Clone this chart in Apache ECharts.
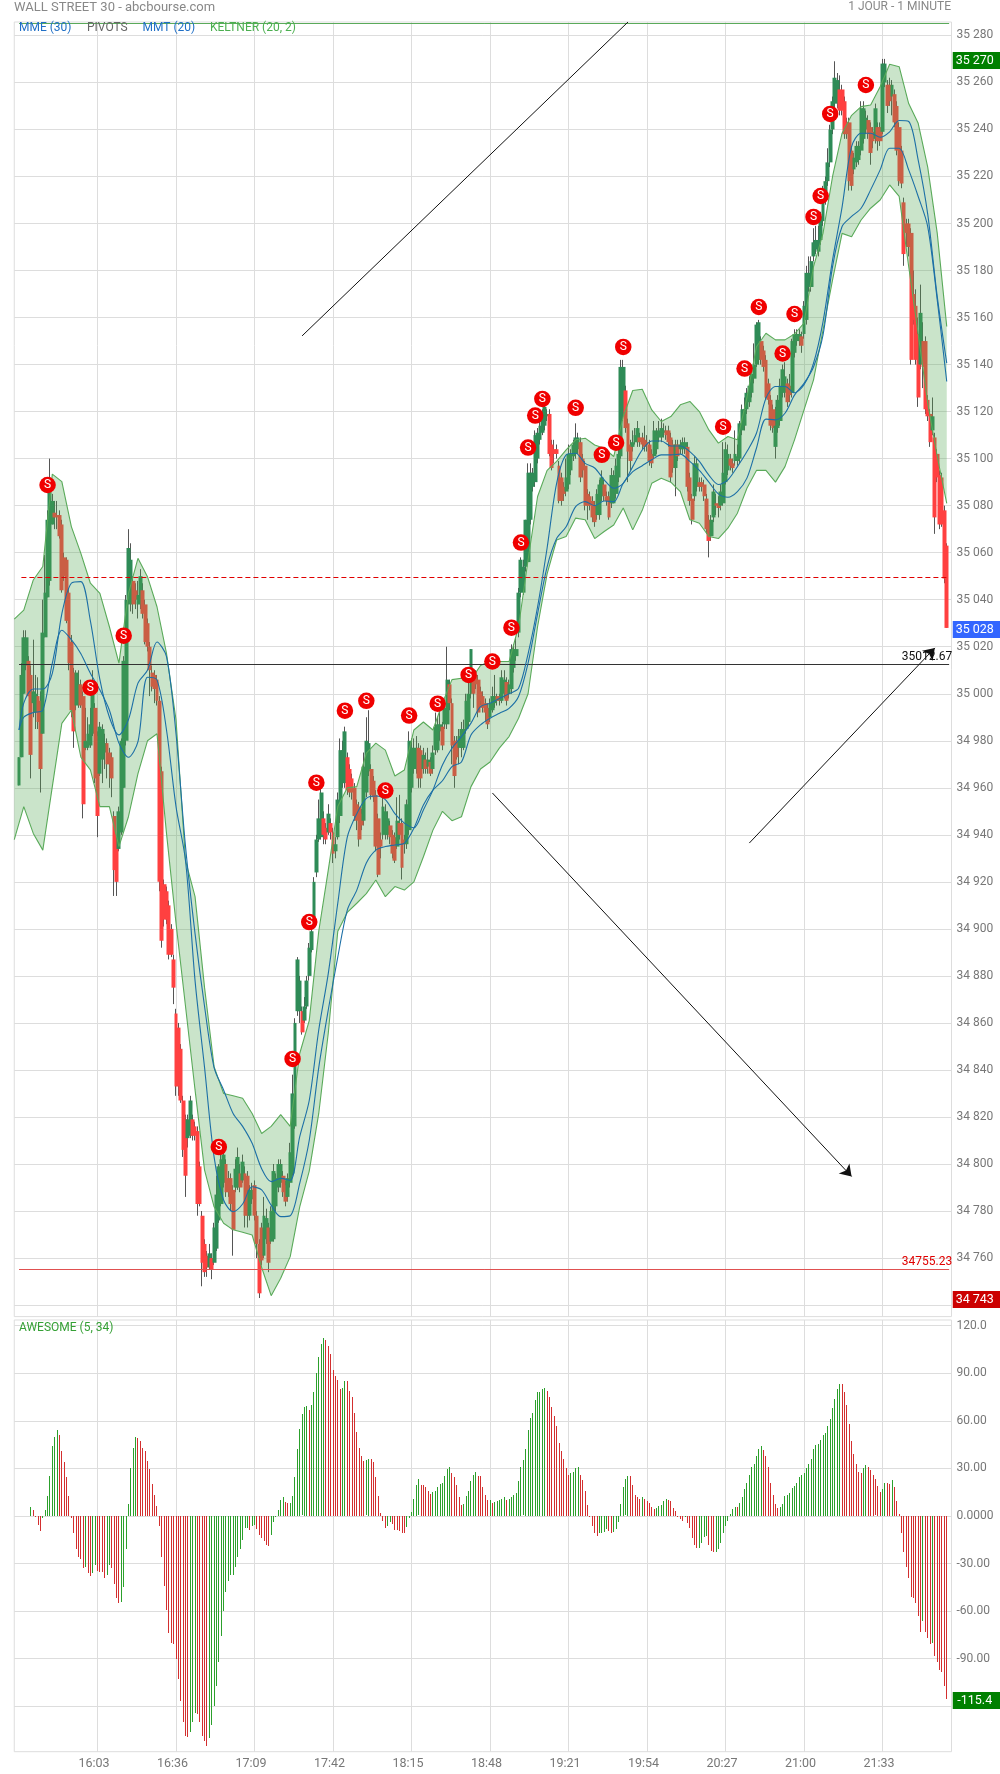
<!DOCTYPE html>
<html><head><meta charset="utf-8">
<style>html,body{margin:0;padding:0;background:#fff}#c{width:1000px;height:1774px}</style>
<script src="https://cdn.jsdelivr.net/npm/echarts@6/dist/echarts.min.js"></script>
</head><body><div id="c"></div>
<script>
// minutes 15:28 .. 22:02
const times=[];for(let m=15*60+28;m<=22*60+2;m++){times.push(String(Math.floor(m/60)).padStart(2,'0')+':'+String(m%60).padStart(2,'0'));}
const priceTicks=[];for(let v=34740;v<=35280;v+=20)priceTicks.push(v);
const aoTicks=[-120,-90,-60,-30,0,30,60,90,120];
const aoLabels={'120':'120.0','90':'90.00','60':'60.00','30':'30.00','0':'0.0000','-30':'-30.00','-60':'-60.00','-90':'-90.00','-120':''};
// candles [open, close, low, high], first row = index 2 (15:30)
const candles=[
[34961,34973,34961,34973],[34973,35008,34973,35013],[35000,35024,35000,35027],[35012,35024,35010,35027],[35014,34999,34999,35016],[35008,34974,34964,35012],[34996,35001,34990,35023],[34992,35000,34985,35008],[34999,34988,34985,35007],[34997,34968,34958,35001],
[34983,35026,34983,35040],[35024,35043,35024,35059],[35041,35074,35041,35078],[35048,35087,35046,35100],[35072,35082,35072,35085],[35077,35075,35070,35082],[35076,35075,35070,35082],[35076,35067,35066,35078],[35072,35044,35043,35074],[35058,35050,35048,35060],
[35057,35031,35030,35058],[35043,35013,35010,35045],[35022,34993,34990,35025],[35009,34984,34977,35011],[34995,35009,34993,35010],[34996,35004,34994,35010],[35004,34995,34994,35006],[34999,34953,34947,35001],[34977,34980,34976,34994],[34977,34983,34976,34990],
[34978,34987,34977,34994],[34983,35000,34982,35010],[34994,34964,34962,34996],[34982,34948,34939,34984],[34966,34986,34965,34988],[34972,34985,34962,34987],[34975,34979,34968,34983],[34979,34970,34964,34981],[34975,34970,34960,34977],[34973,34964,34956,34975],
[34948,34925,34914,34950],[34938,34920,34914,34940],[34934,34950,34933,34952],[34941,34980,34940,34981],[34960,35014,34960,35016],[34980,35040,34978,35042],[35040,35062,35038,35070],[35038,35057,35035,35064],[35048,35038,35034,35050],[35044,35040,35036,35047],
[35038,35042,35032,35048],[35038,35050,35036,35053],[35044,35034,35032,35047],[35038,35022,35021,35040],[35030,35020,35018,35032],[35020,35010,34999,35022],[35009,35003,35001,35012],[35008,35002,34996,35010],[35006,34997,34995,35008],[34997,34920,34916,34999],
[34967,34895,34892,34969],[34919,34904,34901,34921],[34916,34904,34902,34918],[34910,34889,34887,34912],[34900,34889,34888,34902],[34887,34875,34868,34889],[34864,34833,34829,34866],[34858,34833,34829,34860],[34849,34827,34826,34851],[34827,34806,34803,34829],
[34819,34795,34786,34821],[34811,34819,34807,34821],[34812,34827,34811,34829],[34819,34812,34810,34821],[34816,34812,34810,34818],[34814,34783,34778,34816],[34799,34783,34782,34801],[34778,34758,34748,34780],[34766,34754,34752,34768],[34761,34756,34752,34763],
[34756,34762,34755,34766],[34760,34755,34751,34762],[34758,34773,34757,34775],[34764,34787,34763,34795],[34776,34799,34775,34800],[34783,34802,34782,34807],[34792,34804,34790,34807],[34800,34788,34786,34802],[34794,34788,34786,34797],[34794,34783,34780,34796],
[34789,34772,34761,34791],[34790,34798,34788,34802],[34790,34803,34789,34807],[34796,34790,34788,34800],[34793,34801,34792,34804],[34796,34778,34773,34799],[34795,34778,34773,34797],[34778,34789,34776,34791],[34785,34789,34783,34792],[34791,34778,34776,34793],
[34778,34766,34760,34780],[34766,34745,34743,34768],[34773,34759,34757,34775],[34761,34778,34760,34786],[34768,34777,34766,34781],[34773,34758,34754,34775],[34767,34780,34766,34782],[34768,34797,34767,34800],[34782,34794,34780,34796],[34790,34800,34788,34802],
[34792,34800,34790,34802],[34795,34788,34786,34797],[34791,34784,34782,34793],[34786,34794,34784,34796],[34792,34805,34790,34809],[34796,34830,34795,34838],[34816,34860,34815,34862],[34865,34887,34863,34888],[34865,34878,34860,34880],[34865,34856,34855,34867],
[34861,34867,34860,34871],[34867,34878,34866,34880],[34880,34892,34878,34894],[34891,34899,34890,34901],[34901,34920,34900,34922],[34924,34938,34922,34940],[34938,34947,34937,34955],[34939,34958,34938,34962],[34947,34940,34936,34950],[34943,34938,34936,34945],
[34941,34949,34940,34953],[34945,34941,34938,34947],[34941,34932,34928,34943],[34933,34936,34930,34939],[34939,34955,34938,34958],[34948,34976,34945,34981],[34962,34976,34960,34980],[34962,34984,34960,34986],[34973,34959,34957,34975],[34968,34958,34956,34970],
[34964,34958,34955,34966],[34960,34948,34946,34962],[34953,34946,34942,34955],[34952,34938,34935,34954],[34949,34944,34942,34951],[34946,34969,34944,34975],[34958,34980,34956,34990],[34967,34979,34965,34993],[34968,34957,34955,34970],[34963,34956,34954,34965],
[34957,34935,34933,34959],[34947,34923,34922,34949],[34938,34935,34930,34941],[34940,34952,34938,34956],[34940,34950,34938,34953],[34940,34947,34938,34950],[34944,34939,34936,34946],[34940,34932,34930,34942],[34939,34929,34928,34941],[34935,34946,34934,34956],
[34945,34940,34938,34957],[34945,34926,34921,34947],[34938,34936,34932,34940],[34936,34953,34934,34955],[34942,34980,34940,34984],[34960,34977,34958,34981],[34968,34977,34966,34981],[34968,34977,34966,34982],[34977,34964,34960,34979],[34976,34964,34960,34978],
[34968,34974,34966,34977],[34972,34968,34966,34975],[34969,34972,34966,34977],[34971,34966,34965,34973],[34968,34975,34966,34978],[34976,34986,34974,34992],[34976,34987,34975,34990],[34984,34987,34980,34994],[34986,34978,34976,34988],[34987,34994,34985,34996],
[34987,35006,34985,35020],[35004,34996,34993,35006],[34996,34978,34970,34998],[34980,34965,34960,34982],[34980,34973,34972,34982],[34977,34982,34970,34985],[34977,34985,34973,34988],[34977,34985,34976,34989],[34985,34997,34983,35000],[34988,35000,34986,35008],
[35000,35019,34998,35019],[35006,35000,34994,35010],[35008,35004,35002,35010],[35006,34992,34990,35008],[35001,34997,34995,35003],[34999,34994,34992,35001],[34996,34992,34988,34998],[34994,34987,34985,34996],[34990,34996,34988,34998],[34993,34999,34992,35003],
[34996,34999,34994,35008],[34999,34997,34995,35000],[34999,34997,34995,35000],[34997,35007,34996,35010],[35000,35006,34998,35010],[35005,34997,34995,35007],[35000,35004,34998,35006],[35002,35019,35000,35021],[35011,35019,35009,35021],[35016,35019,35014,35024],
[35026,35043,35024,35045],[35043,35057,35041,35058],[35043,35054,35042,35057],[35054,35074,35052,35074],[35056,35094,35055,35098],[35074,35094,35072,35098],[35088,35094,35086,35096],[35090,35110,35088,35112],[35100,35111,35098,35113],[35108,35114,35106,35116],
[35111,35119,35110,35121],[35114,35122,35112,35124],[35118,35119,35116,35121],[35119,35102,35101,35121],[35106,35096,35095,35108],[35104,35102,35098,35108],[35104,35102,35100,35106],[35097,35082,35081,35099],[35092,35082,35080,35094],[35088,35085,35082,35090],
[35086,35092,35084,35100],[35089,35102,35087,35106],[35095,35102,35093,35104],[35101,35106,35099,35108],[35102,35109,35100,35115],[35104,35109,35102,35111],[35107,35092,35090,35109],[35100,35095,35092,35102],[35097,35080,35078,35099],[35085,35080,35074,35087],
[35084,35080,35078,35086],[35082,35075,35073,35084],[35080,35073,35071,35082],[35076,35085,35074,35087],[35076,35089,35074,35091],[35084,35092,35082,35095],[35089,35084,35082,35091],[35084,35082,35080,35086],[35084,35075,35074,35086],[35081,35093,35079,35096],
[35081,35093,35081,35095],[35085,35097,35083,35100],[35092,35102,35090,35104],[35101,35139,35100,35142],[35118,35139,35116,35142],[35129,35113,35111,35131],[35115,35103,35090,35117],[35106,35099,35095,35108],[35105,35107,35103,35112],[35107,35110,35106,35113],
[35107,35113,35105,35116],[35109,35107,35105,35111],[35109,35106,35104,35111],[35108,35105,35103,35114],[35107,35106,35103,35110],[35106,35099,35097,35108],[35102,35098,35096,35104],[35101,35112,35100,35116],[35104,35110,35102,35113],[35109,35112,35107,35116],
[35109,35113,35107,35117],[35111,35112,35109,35115],[35112,35110,35108,35114],[35112,35107,35105,35114],[35109,35092,35090,35111],[35106,35096,35094,35108],[35096,35106,35084,35108],[35106,35101,35099,35108],[35104,35106,35102,35108],[35104,35107,35102,35109],
[35104,35107,35102,35109],[35105,35088,35086,35107],[35092,35082,35080,35094],[35083,35074,35072,35085],[35084,35098,35082,35101],[35088,35098,35086,35100],[35090,35088,35086,35092],[35090,35088,35086,35092],[35089,35084,35082,35091],[35083,35070,35068,35085],
[35074,35065,35058,35076],[35067,35074,35065,35076],[35075,35086,35073,35089],[35081,35080,35076,35085],[35081,35079,35075,35084],[35080,35086,35078,35089],[35081,35094,35080,35107],[35090,35104,35089,35107],[35095,35102,35093,35106],[35100,35097,35095,35102],
[35098,35096,35094,35100],[35099,35102,35097,35112],[35099,35101,35097,35106],[35100,35115,35098,35116],[35112,35121,35110,35123],[35114,35121,35112,35126],[35121,35128,35119,35130],[35124,35131,35122,35135],[35128,35136,35126,35140],[35134,35140,35132,35149],
[35140,35157,35139,35158],[35142,35158,35140,35159],[35150,35142,35140,35152],[35146,35139,35137,35148],[35142,35126,35125,35144],[35132,35125,35123,35134],[35125,35114,35112,35127],[35121,35113,35111,35123],[35105,35114,35100,35122],[35113,35125,35111,35127],
[35116,35131,35114,35134],[35128,35138,35126,35140],[35128,35135,35126,35141],[35132,35124,35122,35134],[35131,35127,35124,35136],[35128,35150,35126,35151],[35145,35153,35143,35155],[35150,35153,35148,35155],[35150,35153,35148,35155],[35152,35148,35145,35154],
[35153,35165,35151,35167],[35159,35179,35157,35182],[35173,35179,35171,35186],[35173,35184,35171,35186],[35186,35192,35184,35198],[35189,35193,35187,35199],[35188,35193,35186,35199],[35193,35203,35191,35205],[35201,35210,35199,35216],[35210,35218,35208,35220],
[35218,35226,35216,35232],[35226,35240,35224,35242],[35240,35252,35238,35254],[35251,35262,35249,35269],[35251,35261,35249,35264],[35257,35248,35246,35263],[35257,35248,35246,35259],[35252,35238,35236,35254],[35243,35238,35236,35245],[35243,35218,35214,35245],
[35231,35216,35214,35233],[35223,35228,35221,35230],[35226,35233,35224,35235],[35227,35233,35225,35235],[35231,35249,35229,35252],[35236,35249,35234,35252],[35240,35245,35238,35248],[35244,35238,35236,35246],[35241,35230,35225,35243],[35239,35235,35232,35241],
[35236,35249,35234,35251],[35241,35235,35231,35243],[35241,35235,35233,35243],[35239,35268,35238,35270],[35260,35268,35258,35270],[35259,35250,35247,35261],[35259,35252,35250,35262],[35254,35259,35246,35261],[35255,35243,35241,35257],[35250,35231,35229,35252],
[35241,35218,35216,35243],[35231,35217,35215,35233],[35209,35187,35182,35211],[35200,35196,35190,35202],[35200,35190,35186,35202],[35196,35142,35140,35198],[35170,35159,35157,35180],[35165,35142,35140,35172],[35153,35126,35122,35160],[35140,35162,35138,35174],
[35150,35139,35130,35158],[35150,35121,35119,35152],[35125,35118,35116,35127],[35119,35107,35105,35121],[35112,35118,35110,35126],[35109,35075,35068,35111],[35102,35092,35090,35104],[35093,35072,35070,35095],[35092,35072,35071,35094],[35078,35049,35047,35080],
[35063,35028,35028,35064]
];
// read every 4 bars from index 0
const keltnerUpper=[35031.7,35035.6,35048.4,35054.1,35093.4,35090.2,35071.1,35059.7,35047,35042.7,35028.5,35013,35042.7,35057.6,35049.8,35037,35017.2,34988.9,34929,34913.7,34875,34841.4,34830,34829,34828,34821.5,34813,34816,34821,34816,34847,34861,34899,34925,34952,34960,34960.5,34974.7,34979,34976,34965,34967.6,34984.6,34988,34984.6,34996,35006,35006.6,35006,35012,35013.7,35013.7,35013.7,35028.6,35057,35083.9,35095,35098.8,35103.7,35108,35108.7,35105.8,35104.4,35100.9,35117.9,35129,35129.5,35120.7,35115.8,35117.9,35122.9,35124.3,35120,35112.2,35106.6,35109.4,35108,35126,35147.6,35153.3,35150.5,35150.5,35153,35157.6,35181.7,35195.9,35220,35238.4,35246,35249.7,35250.4,35258.2,35267.7,35266.7,35251,35242.6,35224,35195.9,35156.2];
const keltnerLower=[34938,34952,34940.6,34933.5,34960.5,34987.4,34993,34973,34967.6,34952,34952,34935,34947.7,34966,34980,34983,34940.6,34902.4,34867,34831.5,34797.4,34781.8,34774.8,34772,34771,34769.8,34756,34744,34751.4,34760.6,34781.8,34797,34821.5,34855.6,34899,34907,34910.9,34915,34920.8,34913.7,34918,34916.5,34920,34930.7,34942,34950,34946,34947.7,34960.5,34968,34971,34977,34981.8,34989.6,35000,35028.6,35051,35065.4,35066.9,35074.7,35074,35066,35069,35071.8,35079,35069.7,35078,35089.5,35091.7,35090,35086,35074,35072.5,35066.9,35066,35070.4,35076.8,35087.4,35095,35095,35090,35096.6,35108,35120.7,35133.5,35154.7,35176,35195.8,35194.4,35201.5,35206.5,35210,35216.4,35211.5,35181.7,35153,35123.6,35100.9,35081];
// read every 4 bars from index 4
const mmt=[34996,35002,35002,35008.7,35034,35047,35047.7,35031,35006,34990,34982.5,34989,35004.5,35010,35022,35015.8,34983,34935,34898,34867,34841,34831.5,34821.5,34816,34808.8,34798,34792.5,34793.9,34793,34811.6,34827,34857,34881,34910.9,34939,34949,34955.5,34956.5,34955,34949,34945,34943,34950.6,34959,34969.7,34976.8,34981.8,34987.5,34994.5,34996,34998,35000,35002.3,35017,35037,35062,35089.5,35101.6,35102.3,35098,35096,35091,35087.4,35089.5,35096.6,35103.7,35107.5,35107.5,35105.4,35105.4,35103,35098.8,35093,35089,35091,35096.6,35103,35110.8,35125.7,35130.7,35130.7,35128,35131.4,35140.6,35158.3,35184.5,35207,35232.7,35238.4,35238.4,35236.7,35239,35243.8,35243.4,35227,35204,35169,35140.6];
const mme=[34990,34992,34993,35013,35027,35023,35017,35008.7,35001.6,34993,34979,34973,34979.6,35007,35005.9,34984.6,34952,34929,34878,34841,34803,34784.7,34779.7,34783,34790.3,34789,34782.5,34777.6,34778,34791.8,34810,34841,34865.5,34888,34908,34916.5,34928,34933.5,34935,34935.7,34936.4,34942.8,34952.7,34959,34963,34969,34971,34982.5,34986.8,34989.6,34991.7,34993.8,34998.8,35013,35034,35054,35066,35071,35079.6,35081.7,35080,35082,35081.7,35089.5,35094.5,35097,35099.5,35101.6,35101.6,35101.9,35098.8,35095,35090,35085,35083.6,35086,35091.7,35104.4,35116.8,35116.5,35119.3,35127,35132,35139,35152.6,35181.7,35198.7,35203,35206.5,35214.3,35222.8,35232,35232,35222.8,35211.5,35198.7,35167.5,35132.8];
const lineStart=34984.6;
// awesome oscillator, first value = index 7
const ao=[5.4,3.8,-0.5,-5.6,-9.4,-1,3.8,12.5,25,44,50,54,51,41,34,24.5,12.5,-1,-11,-21,-26,-27,-33,-32,-36,-38,-36,-31,-35,-35.4,-35.6,-39,-37,-31,-33,-43,-52,-55,-54,-45,-21,7.5,30,43,50,49,47,43,41,34.5,29.5,20,13,6,-6,-26,-44,-59,-74,-80,-80.5,-90,-103,-117,-130,-139,-139.5,-136,-130,-124,-125,-130,-139,-142,-145,-140,-132,-120,-107,-92,-76,-60,-48,-41,-37,-36.9,-32,-26,-21,-15,-7.5,-7.4,-9,-6,-5.6,-8,-12,-14,-16,-18,-19,-12,-4,-0.6,3.8,10,12,9,8,8.1,12.5,24.5,42,55,64,69,69.1,67,70,78,90,100,108.5,112,111,107,102,92,88,86,80,
81,85,84.9,79,75,65,53,43,38,34.5,35,36,35.8,34,24.5,12.5,2,-3,-7.5,-6,-4,-5,-9,-9.1,-9.2,-10.8,-10.9,-7,-1,2.5,11,19.5,23,19.5,19.4,18,16,14,15,16,18,20,21,25,29.5,31,27,24.5,19.5,12,7,7.5,12.5,16,22,26,27.5,25.5,25,18,13,10,10.1,8,9,9.5,10,11,12,10,10.5,12,13,14.5,22,31,35,42,54.5,61.5,65,73,78,78.1,80,81,79,75,69,63,56.5,46,41,36,30,26,27,27.5,30,31,26,22.5,16,7,-0.4,-6,-11,-12.5,-11,-10.5,-10,-8,-9.5,-10.5,-10.4,-8,-4,7.5,18,23,25.5,25.4,19.5,13,12,11,12,10.5,9.5,8,5.6,4.4,5,6,7,9.5,10.5,10,9.5,
5,3,-0.4,-2,-3,-0.6,-4.4,-7.5,-14,-18,-20,-20,-17,-13,-12.5,-18,-22,-23,-22.5,-21,-17,-11,-6,-3,1.3,4.4,5.6,5.5,8,12,17,21,26,31,33,38,42,44,41.5,38,31,21,13,7.5,5,5.6,7.5,12.5,13,14.5,17.5,19,20.5,24.5,26,27,30,32.5,36,42,45,45.5,48,51,52.5,56.5,61,68,74,80,83.5,83,78,70,58,47,39,32.5,27.5,27,30,32,31,29,26,23,19,15,17,21,20.5,20,22.5,18,9.5,1,-10.5,-23,-32,-39,-51,-52,-55,-63,-73,-66.5,-73,-77,-81,-80,-88,-92,-97,-98.5,-107,-115.4];
// sell signals [index, price]
const sellSignals=[[14,35088.8],[32,35002.6],[46,35024.7],[86,34807.2],[117,34844.7],[124,34902.9],[127,34962.2],[139,34992.8],[148,34997],[156,34958.8],[166,34990.7],[178,34995.8],[191,35008],[201,35013.7],[209,35028.1],[213,35064.3],[216,35104.7],[219,35118.3],[222,35125.4],[236,35121.6],[247,35101.6],[253,35106.8],[256,35147.5],[298,35113.6],[307,35138.3],[313,35164.5],[323,35144.7],[328,35161.5],[336,35202.8],[339,35211.7],[343,35246.6],[358,35258.9]];
const pivotValue=35049.5, resistance=35012.67, support=34755.23, topLine=35285.3;
const lastClose=35028, dayHigh=35270, dayLow=34743, aoLast=-115.4;

const F='Roboto';
const fmtPrice=v=>{const s=String(Math.round(v));return s.slice(0,2)+' '+s.slice(2);};
const isTime=i=>(i-35)%33===0&&i>=35;
const candleIdx=i=>times[i+2];
const wicks=candles.map((c,i)=>[candleIdx(i),Math.min(c[0],c[1]),Math.max(c[0],c[1]),c[2],c[3]]);
const bodies=candles.map((c,i)=>[candleIdx(i),c[0],c[1],Math.min(c[0],c[1]),Math.max(c[0],c[1])]);
const kIdx=keltnerUpper.map((_,i)=>i*4);
const kLow=kIdx.map((x,i)=>[x,keltnerLower[i]]);
const kDiff=kIdx.map((x,i)=>[x,keltnerUpper[i]-keltnerLower[i]]);
const mmtD=[[2,lineStart]].concat(mmt.map((v,i)=>[4+i*4,v]));
const mmeD=[[2,lineStart]].concat(mme.map((v,i)=>[4+i*4,v]));
const RED='#d32f2f',GRN='#2ca02c';
const aoData=ao.map((v,i)=>[i+7,v,(i>0&&v<ao[i-1])?0:1]);
const blue='#1c6fa6',kGreen='#5aaa5a',GRID='#ddd';
const badge=(idx,val,txt,col)=>({coord:[idx,val],symbol:'rect',symbolSize:[50,17],symbolOffset:[31,1.5],itemStyle:{color:col},label:{show:true,position:'inside',offset:[-3,0],formatter:txt,color:'#fff',fontFamily:F,fontSize:12.5}});
const xCommon={type:'category',data:times,boundaryGap:false,axisLine:{show:false},axisTick:{show:false},
  splitLine:{show:true,interval:(i)=>isTime(i),lineStyle:{color:GRID,width:1}}};
const option={
 animation:false,backgroundColor:'#fff',
 grid:[{left:14.26,width:937.24,top:22,height:1294.6,show:true,borderColor:GRID,borderWidth:1},
       {left:14.26,width:937.24,top:1320,height:431.7,show:true,borderColor:GRID,borderWidth:1}],
 xAxis:[Object.assign({gridIndex:0,axisLabel:{show:false,interval:(i)=>isTime(i)}},xCommon),
        Object.assign({gridIndex:1,axisLabel:{show:true,interval:(i)=>isTime(i),color:'#777',fontFamily:F,fontSize:12.5,margin:6,padding:[0,7,0,0]}},xCommon)],
 yAxis:[{type:'value',gridIndex:0,position:'right',min:34735.1,max:35285.7,scale:true,
   axisLine:{show:false},axisTick:{show:false,customValues:priceTicks},
   splitLine:{show:true,lineStyle:{color:GRID,width:1}},
   axisLabel:{customValues:priceTicks,color:'#777',fontFamily:F,fontSize:12,margin:5,padding:[0,0,8,0],formatter:fmtPrice,showMinLabel:true,showMaxLabel:true}},
  {type:'value',gridIndex:1,position:'right',min:-148.7,max:123.6,
   axisLine:{show:false},axisTick:{show:false,customValues:aoTicks},
   splitLine:{show:true,lineStyle:{color:GRID,width:1}},
   axisLabel:{customValues:aoTicks,color:'#777',fontFamily:F,fontSize:12,margin:5,padding:[0,0,8,0],formatter:v=>aoLabels[String(v)]}}],
 graphic:[
  {type:'text',left:14,top:1,style:{text:'WALL STREET 30 - abcbourse.com',fill:'#888',font:'13px Roboto'}},
  {type:'text',right:49,top:1,style:{text:'1 JOUR - 1 MINUTE',fill:'#888',font:'12px Roboto'}},
  {type:'text',left:19,top:22,z:50,style:{text:'MME (30)',fill:'#1f6fc6',font:'12px Roboto'}},
  {type:'text',left:87,top:22,z:50,style:{text:'PIVOTS',fill:'#666',font:'12px Roboto'}},
  {type:'text',left:142.5,top:22,z:50,style:{text:'MMT (20)',fill:'#1f6fc6',font:'12px Roboto'}},
  {type:'text',left:210,top:22,z:50,style:{text:'KELTNER (20, 2)',fill:'#4caf50',font:'12px Roboto'}},
  {type:'text',left:19,top:1322,z:50,style:{text:'AWESOME (5, 34)',fill:'#35a035',font:'12px Roboto'}}
 ],
 series:[
  {name:'wicks',type:'candlestick',xAxisIndex:0,yAxisIndex:0,barWidth:1,z:2,clip:false,data:wicks,encode:{x:0,y:[1,2,3,4]},
   itemStyle:{color:'#555',color0:'#555',borderColor:'#555',borderColor0:'#555',borderWidth:1}},
  {name:'candles',type:'candlestick',xAxisIndex:0,yAxisIndex:0,barWidth:4.4,z:3,clip:false,data:bodies,encode:{x:0,y:[1,2,3,4]},
   itemStyle:{color:'#2e8b57',color0:'#ff4040',borderColor:'#2e8b57',borderColor0:'#ff4040',borderWidth:0}},
  {name:'KELTNER low',type:'line',xAxisIndex:0,yAxisIndex:0,stack:'k',data:kLow,showSymbol:false,z:4,lineStyle:{color:kGreen,width:1.1},itemStyle:{color:kGreen}},
  {name:'KELTNER (20, 2)',type:'line',xAxisIndex:0,yAxisIndex:0,stack:'k',data:kDiff,showSymbol:false,z:4,lineStyle:{color:kGreen,width:1.1},itemStyle:{color:kGreen},areaStyle:{color:'rgba(80,165,80,0.3)',opacity:1}},
  {name:'MME (30)',type:'line',xAxisIndex:0,yAxisIndex:0,data:mmeD,showSymbol:false,smooth:0.3,z:5,lineStyle:{color:blue,width:1.1},itemStyle:{color:blue}},
  {name:'MMT (20)',type:'line',xAxisIndex:0,yAxisIndex:0,data:mmtD,showSymbol:false,smooth:0.3,z:5,lineStyle:{color:blue,width:1.1},itemStyle:{color:blue}},
  {name:'PIVOTS',type:'line',xAxisIndex:0,yAxisIndex:0,data:[],z:6,
   markLine:{silent:true,animation:false,symbol:'none',precision:2,label:{show:false},data:[
    [{coord:[3,pivotValue],lineStyle:{color:'#e00000',type:[5,3],width:1}},{coord:[392,pivotValue]}],
    [{coord:[2,resistance],lineStyle:{color:'#333',type:'solid',width:1},label:{show:true,formatter:String(resistance),position:'insideEndTop',distance:[-3,1],color:'#111',fontFamily:F,fontSize:12}},{coord:[393,resistance]}],
    [{coord:[2,support],lineStyle:{color:'#e05050',type:'solid',width:1},label:{show:true,formatter:String(support),position:'insideEndTop',distance:[-3,1],color:'#e00000',fontFamily:F,fontSize:12}},{coord:[393,support]}],
    [{coord:[2,topLine],lineStyle:{color:'#5aaa5a',type:'solid',width:1}},{coord:[393,topLine]}],
    [{coord:[121,35152.2],lineStyle:{color:'#111',type:'solid',width:1}},{coord:[258,35285.7]}],
    [{coord:[201,34957.8],symbol:'none',lineStyle:{color:'#111',type:'solid',width:1}},{coord:[352,34794.7],symbol:'arrow',symbolSize:11}],
    [{coord:[309,34936.5],symbol:'none',lineStyle:{color:'#111',type:'solid',width:1}},{coord:[387,35019.5],symbol:'arrow',symbolSize:11}]
   ]},
   markPoint:{silent:true,animation:false,data:[badge(392,dayHigh,fmtPrice(dayHigh),'#008000'),badge(392,lastClose,fmtPrice(lastClose),'#3366ff'),badge(392,dayLow,fmtPrice(dayLow),'#cc0000')]}},
  {name:'sell',type:'scatter',xAxisIndex:0,yAxisIndex:0,data:sellSignals,symbol:'circle',symbolSize:16.5,z:7,clip:false,itemStyle:{color:'#f00000',opacity:1},
   label:{show:true,position:'inside',formatter:'S',color:'#fff',fontFamily:F,fontSize:12}},
  {name:'AWESOME (5, 34)',type:'custom',xAxisIndex:1,yAxisIndex:1,data:aoData,encode:{x:0,y:1},z:3,clip:false,
   renderItem:(params,api)=>{
     const base=api.coord([api.value(0),0]),top=api.coord([api.value(0),api.value(1)]);
     const y0=Math.min(base[1],top[1]),y1=Math.max(base[1],top[1]);
     return {type:'rect',shape:{x:Math.round(base[0]-0.5),y:Math.round(y0),width:1,height:Math.max(1,Math.round(y1-y0))},style:{fill:api.value(2)?GRN:RED}};
   }},
  {name:'AO last',type:'line',xAxisIndex:1,yAxisIndex:1,data:[],z:6,
   markPoint:{silent:true,animation:false,data:[badge(392,aoLast,String(aoLast),'#008000')]}}
 ]
};
const chart=echarts.init(document.getElementById('c'),null,{renderer:'canvas'});
chart.setOption(option);
</script></body></html>
